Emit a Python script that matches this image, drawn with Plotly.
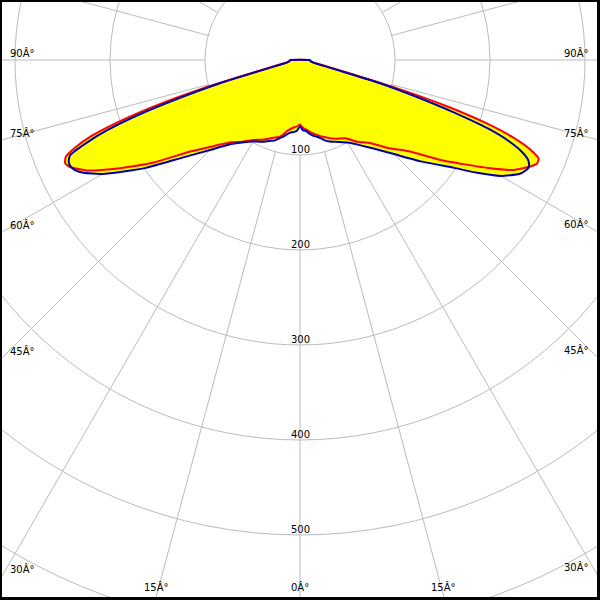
import numpy as np
import plotly.graph_objects as go

# ---- data (luminous intensity, cd/klm) ----
angles_deg = [-90, -85, -80, -77.5, -75, -73.75, -72.5, -71.25, -70, -68.75, -67.5, -66.25, -65, -63.75,
              -62.5, -60, -57.5, -55, -50, -45, -40, -35, -30, -25, -20, -17.5, -15, -12.5, -10, -7.5,
              -5, -2.5, 0, 2.5, 5, 7.5, 10, 12.5, 15, 17.5, 20, 25, 30, 35, 40, 45, 50, 55, 57.5, 60,
              62.5, 63.75, 65, 66.25, 67.5, 68.75, 70, 71.25, 72.5, 73.75, 75, 77.5, 80, 85, 90]

plane_blue = [10, 11, 13, 18, 40, 90, 133, 180, 216, 242, 262, 266, 266, 263,
              257, 240, 218, 198, 159, 134, 116, 106, 99, 95, 90.5, 89, 85.5, 83, 79.5, 77,
              76, 74.5, 70, 74.2, 75, 78.5, 81, 82.8, 85.5, 89, 91.4, 95.2, 100.4, 109.4, 122, 140, 166, 198, 221, 244,
              260, 264, 266, 262.6, 253, 236, 210, 169, 127, 90, 40, 18, 13, 11, 10]

plane_red = [10, 11, 14, 22, 50, 105, 157, 200, 233, 253.5, 267, 270, 267, 259.5,
             252, 230, 208, 188, 149.5, 128, 113, 105, 97.3, 92.5, 87.5, 85.5, 83.7, 80, 75.5, 73,
             71, 70, 68, 71.5, 73.5, 76, 78.4, 80.5, 83, 85, 87.5, 91.4, 95.2, 105, 114, 131, 149.5, 185, 204, 227,
             251, 259, 266, 272, 272, 260, 239, 207, 162, 105, 50, 22, 14, 11, 10]

ring_values = [100, 200, 300, 400, 500, 600, 700]
ring_labels = ["100", "200", "300", "400", "500"]
angle_ticks = [0, 15, 30, 45, 60, 75, 90]
angle_tick_labels = ["0Â°", "15Â°", "30Â°", "45Â°", "60Â°", "75Â°", "90Â°"]

# ---- geometry of the view ----
PX = 0.95                     # pixels per cd/klm
CX, CY = 300, 60              # pixel position of the pole
L, T, R, B = 2, 2, 597, 597   # plot area in pixels
xmin, xmax = (L - CX) / PX, (R - CX) / PX
ymin, ymax = (CY - B) / PX, (CY - T) / PX


def to_xy(ang, val):
    a = np.radians(np.asarray(ang, dtype=float))
    v = np.asarray(val, dtype=float)
    return v * np.sin(a), -v * np.cos(a)


fig = go.Figure()

bx, by = to_xy(angles_deg, plane_blue)
rx, ry = to_xy(angles_deg, plane_red)

for xx, yy in [(rx, ry), (bx, by)]:
    fig.add_trace(go.Scatter(x=xx, y=yy, mode="lines", fill="toself", fillcolor="#FFFF00",
                             line=dict(width=0, color="#FFFF00", shape="spline", smoothing=0.5),
                             hoverinfo="skip", showlegend=False))
fig.add_trace(go.Scatter(x=np.append(rx, rx[0]), y=np.append(ry, ry[0]), mode="lines",
                         line=dict(color="#FF0000", width=2, shape="spline", smoothing=0.5),
                         showlegend=False))
fig.add_trace(go.Scatter(x=np.append(bx, bx[0]), y=np.append(by, by[0]), mode="lines",
                         line=dict(color="#0000B0", width=2, shape="spline", smoothing=0.5),
                         showlegend=False))

grid = dict(color="#BBBBBB", width=1)
shapes = []
for r in ring_values:
    shapes.append(dict(type="circle", xref="x", yref="y", x0=-r, x1=r, y0=-r, y1=r,
                       line=grid, layer="below"))
for a in range(0, 360, 15):
    s, c = np.sin(np.radians(a)), np.cos(np.radians(a))
    shapes.append(dict(type="line", xref="x", yref="y", x0=100 * s, y0=-100 * c,
                       x1=900 * s, y1=-900 * c, line=grid, layer="below"))

font = dict(family="DejaVu Sans", size=10, color="#000000")
annotations = []
for r, lab in zip(ring_values, ring_labels):
    annotations.append(dict(x=0, y=-r, xref="x", yref="y", text=lab, showarrow=False,
                            yanchor="bottom", xanchor="center", yshift=-2, font=font))

for a, lab in zip(angle_ticks, angle_tick_labels):
    for side in (-1, 1):
        if a == 0 and side == 1:
            continue
        sa, ca = np.sin(np.radians(a)), np.cos(np.radians(a))
        edge = xmin if side < 0 else xmax
        t_side = abs(edge) / sa if sa > 1e-9 else np.inf
        t_bot = abs(ymin) / ca if ca > 1e-9 else np.inf
        if t_side < t_bot:
            yh = -t_side * ca
            annotations.append(dict(x=edge + side * (-6 / PX), y=yh - 1 / PX, xref="x", yref="y",
                                    text=lab, showarrow=False, yanchor="bottom",
                                    xanchor="left" if side < 0 else "right", font=font))
        else:
            xh = side * t_bot * sa
            annotations.append(dict(x=xh, y=ymin, xref="x", yref="y", text=lab, showarrow=False,
                                    yanchor="bottom", xanchor="center", yshift=2, font=font))

fig.update_layout(
    width=600, height=600, autosize=False,
    margin=dict(l=L, r=600 - R, t=T, b=600 - B, pad=0),
    paper_bgcolor="#000000", plot_bgcolor="#FFFFFF",
    shapes=shapes, annotations=annotations, showlegend=False,
    xaxis=dict(range=[xmin, xmax], visible=False, fixedrange=True),
    yaxis=dict(range=[ymin, ymax], visible=False, fixedrange=True),
)

fig.write_html("out.html", config=dict(displayModeBar=False),
               post_script="document.body.style.margin='0';document.body.style.overflow='hidden';")
